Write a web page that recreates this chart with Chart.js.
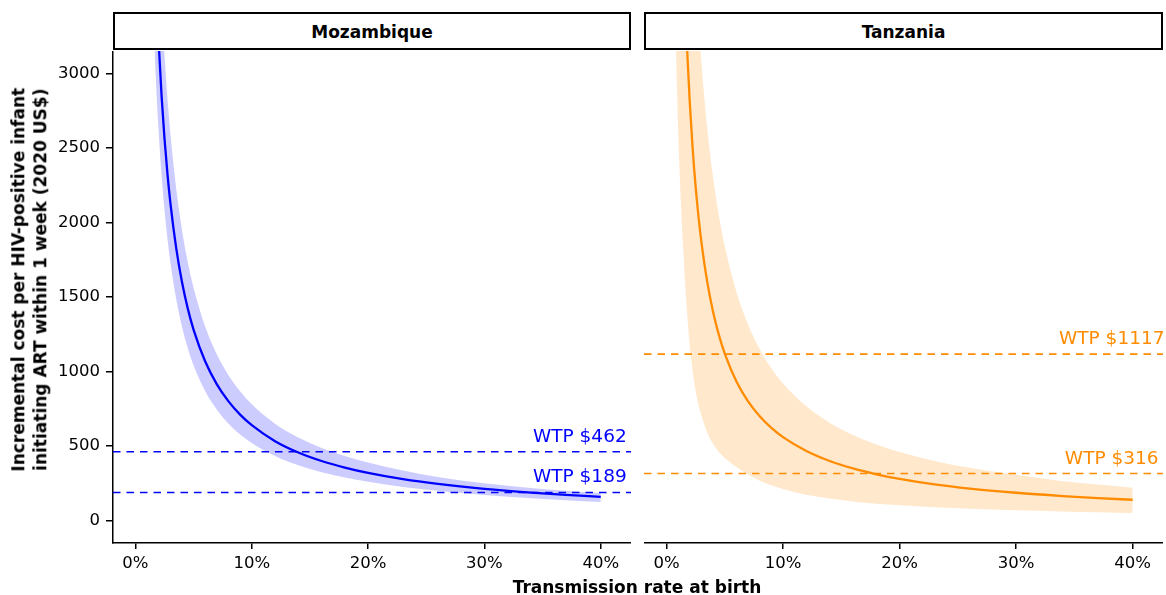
<!DOCTYPE html>
<html><head><meta charset="utf-8">
<script src="https://cdn.jsdelivr.net/npm/chart.js@4.4.1/dist/chart.umd.min.js"></script>
<style>
html,body{margin:0;padding:0;background:#fff;}
body{width:1166px;height:595px;position:relative;overflow:hidden;font-family:"DejaVu Sans",sans-serif;color:#000;}
.strip{position:absolute;box-sizing:border-box;border:2px solid #000;background:#fff;font-weight:bold;font-size:17px;text-align:center;line-height:34px;padding-top:1px;}
.cv{position:absolute;}
#ytitle{position:absolute;width:440px;height:43.4px;left:-190px;top:258.3px;transform:rotate(-90deg);transform-origin:50% 50%;text-align:center;font-weight:bold;font-size:17px;line-height:21.7px;white-space:nowrap;}
#xtitle{position:absolute;left:113px;width:1048px;top:576.8px;text-align:center;font-weight:bold;font-size:17px;line-height:20px;white-space:nowrap;}
</style></head>
<body>
<div class="strip" style="left:113px;top:12px;width:518px;height:38px;">Mozambique</div>
<div class="strip" style="left:644px;top:12px;width:519px;height:38px;">Tanzania</div>
<canvas id="moz" class="cv" width="631" height="537" style="left:0px;top:51px;"></canvas>
<canvas id="tza" class="cv" width="519" height="537" style="left:644px;top:51px;"></canvas>
<div id="ytitle">Incremental cost per HIV-positive infant<br>initiating ART within 1 week (2020 US$)</div>
<div id="xtitle">Transmission rate at birth</div>
<script>
// axis ranges and ticks
const xMin = -1.93, xMax = 42.6, yMin = -150, yMax = 3150;
const xTicks = [0, 10, 20, 30, 40];
const xTickLabels = ['0%', '10%', '20%', '30%', '40%'];
const yTicks = [0, 500, 1000, 1500, 2000, 2500, 3000];
const yTickLabels = ['0', '500', '1000', '1500', '2000', '2500', '3000'];

// Mozambique: transmission rate (%) and incremental cost (2020 US$)
const mozX    = [1.5, 1.75, 2, 2.25, 2.5, 2.75, 3, 3.5, 4, 4.5, 5, 6, 7, 8, 9, 10, 12, 14, 16, 18, 20, 23, 26, 30, 34, 37, 40];
const mozMid  = [4267, 3657, 3200, 2844, 2560, 2327, 2133, 1829, 1600, 1422, 1280, 1067, 914, 800, 711, 640, 533, 457, 400, 356, 320, 278, 246, 213, 188, 173, 160];
const mozLow  = [3467, 2971, 2600, 2311, 2080, 1891, 1733, 1486, 1300, 1156, 1040, 867, 743, 650, 578, 520, 433, 371, 325, 289, 260, 226, 200, 172, 150, 137, 125];
const mozHigh = [5200, 4457, 3900, 3467, 3120, 2836, 2600, 2229, 1950, 1733, 1560, 1300, 1114, 975, 867, 780, 650, 557, 488, 433, 390, 336, 292, 250, 219, 201, 185];
const mozWTP  = [462, 189];

// Tanzania
const tzaX    = [0.6, 0.7, 0.8, 0.9, 1.0, 1.1, 1.25, 1.4, 1.6, 1.8, 2.0, 2.25, 2.5, 2.75, 3, 3.5, 4, 4.5, 5, 6, 7, 8, 9, 10, 12, 14, 16, 18, 20, 23, 26, 30, 34, 37, 40];
const tzaMid  = [9333, 8000, 7000, 6222, 5600, 5091, 4480, 4000, 3500, 3111, 2800, 2489, 2240, 2036, 1867, 1600, 1400, 1244, 1120, 933, 800, 700, 622, 560, 467, 400, 350, 311, 280, 243, 215, 187, 165, 151, 140];
const tzaLow  = [4300, 3700, 3240, 2900, 2620, 2390, 2110, 1870, 1590, 1360, 1170, 1000, 870, 775, 705, 590, 515, 460, 420, 360, 310, 268, 238, 212, 173, 148, 128, 114, 103, 90, 80, 70, 62, 56, 51];
const tzaHigh = [15300, 13140, 11500, 10220, 9200, 8360, 7360, 6570, 5750, 5110, 4600, 4090, 3680, 3345, 3067, 2630, 2300, 2044, 1840, 1533, 1314, 1150, 1022, 920, 767, 657, 575, 511, 460, 400, 354, 307, 265, 242, 221];
const tzaWTP  = [1117, 316];

const wtpLabelX = 38.2;

const FONT = 'DejaVu Sans';

function pts(xs, ys) { return xs.map((x, i) => ({ x: x, y: ys[i] })); }

function hline(v, color) {
  return { data: [{ x: xMin, y: v }, { x: xMax, y: v }], borderColor: color, borderWidth: 1.6,
           borderDash: [7.5, 6], pointRadius: 0, fill: false, tension: 0 };
}

const wtpPlugin = {
  id: 'wtpLabels',
  afterDatasetsDraw(chart, args, opts) {
    const ctx = chart.ctx, xs = chart.scales.x, ys = chart.scales.y;
    ctx.save();
    ctx.font = '18.5px "' + FONT + '"';
    ctx.fillStyle = opts.color;
    ctx.textAlign = 'center';
    ctx.textBaseline = 'alphabetic';
    opts.values.forEach(v => {
      ctx.fillText('WTP $' + v, xs.getPixelForValue(opts.x), ys.getPixelForValue(v) - 10);
    });
    ctx.restore();
  }
};

function axisCommon(tl, pad) {
  return {
    grid: { display: true, drawOnChartArea: false, drawTicks: true, tickLength: tl, color: '#000', lineWidth: 1.5 },
    border: { display: true, color: '#000', width: 1.5 },
    ticks: { color: '#000', font: { family: FONT, size: 16.5 }, padding: pad, autoSkip: false, maxRotation: 0 }
  };
}

function makeChart(id, x, mid, low, high, wtp, color, fillColor, showY) {
  const datasets = [];
  wtp.forEach(v => datasets.push(hline(v, color)));
  datasets.push({ data: pts(x, mid), borderColor: color, borderWidth: 2.3, fill: false, cubicInterpolationMode: 'monotone' });
  datasets.push({ data: pts(x, low), borderColor: 'rgba(0,0,0,0)', borderWidth: 0, fill: false, cubicInterpolationMode: 'monotone' });
  datasets.push({ data: pts(x, high), borderColor: 'rgba(0,0,0,0)', borderWidth: 0, backgroundColor: fillColor,
                  fill: wtp.length + 1, cubicInterpolationMode: 'monotone' });

  const xa = axisCommon(6, 5);
  const ya = axisCommon(7, 6);
  return new Chart(document.getElementById(id), {
    type: 'line',
    data: { datasets: datasets },
    plugins: [wtpPlugin],
    options: {
      responsive: false,
      animation: false,
      devicePixelRatio: 1,
      layout: { padding: 0 },
      elements: { point: { radius: 0, hoverRadius: 0 } },
      plugins: { legend: { display: false }, tooltip: { enabled: false },
                 wtpLabels: { values: wtp, color: color, x: wtpLabelX } },
      scales: {
        x: Object.assign(xa, {
          type: 'linear', min: xMin, max: xMax,
          afterBuildTicks: s => { s.ticks = xTicks.map(v => ({ value: v })); },
          afterFit: s => { s.height = 45; s.paddingLeft = 0; s.paddingRight = 0; },
          ticks: Object.assign(xa.ticks, { callback: v => xTickLabels[xTicks.indexOf(v)] })
        }),
        y: Object.assign(ya, {
          type: 'linear', min: yMin, max: yMax, display: showY,
          afterBuildTicks: s => { s.ticks = yTicks.map(v => ({ value: v })); },
          afterFit: s => { if (showY) s.width = 113; s.paddingTop = 0; s.paddingBottom = 0; },
          ticks: Object.assign(ya.ticks, { callback: v => yTickLabels[yTicks.indexOf(v)] })
        })
      }
    }
  });
}

makeChart('moz', mozX, mozMid, mozLow, mozHigh, mozWTP, '#0000FF', 'rgba(0,0,255,0.2)', true);
makeChart('tza', tzaX, tzaMid, tzaLow, tzaHigh, tzaWTP, '#FF8C00', 'rgba(255,140,0,0.2)', false);
</script>
</body></html>
